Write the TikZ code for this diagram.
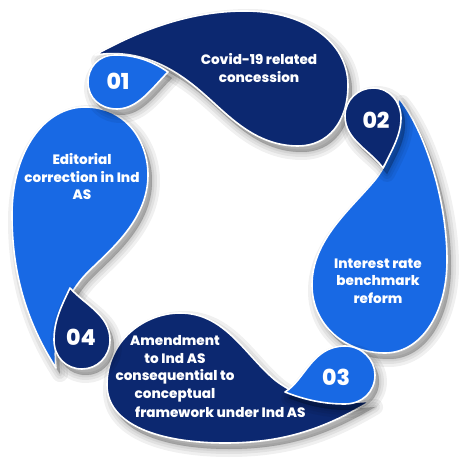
\documentclass[tikz,border=0pt]{standalone}
\usepackage{fontspec}
\setmainfont{Poppins}[UprightFont={* ExtraBold},BoldFont={* ExtraBold}]
\definecolor{navy}{RGB}{12,40,112}
\definecolor{bblue}{RGB}{24,105,228}
\newcommand\pthA{(95,55) .. controls (140,30) and (190,11) .. (245,11)
 .. controls (305,11) and (348,42) .. (348,85)
 .. controls (348,122) and (328,146) .. (298,146)
 .. controls (255,146) and (228,115) .. (205,95)
 .. controls (175,68) and (140,48) .. (95,55) -- cycle}
\newcommand\pthAb{(168,72) .. controls (148,58) and (130,55) .. (115,55)
 .. controls (98,55) and (88,68) .. (88,82)
 .. controls (88,98) and (100,109) .. (117,109)
 .. controls (138,109) and (152,88) .. (168,72) -- cycle}
\newcommand\pthB{(398,97) .. controls (425,130) and (447,200) .. (447,260)
 .. controls (447,315) and (420,353) .. (385,353)
 .. controls (345,353) and (312,325) .. (312,285)
 .. controls (312,240) and (350,210) .. (375,180)
 .. controls (395,155) and (400,120) .. (398,97) -- cycle}
\newcommand\pthBb{(383,168) .. controls (370,150) and (345,140) .. (345,116)
 .. controls (345,100) and (358,88) .. (373,88)
 .. controls (390,88) and (401,102) .. (401,118)
 .. controls (401,135) and (392,150) .. (383,168) -- cycle}
\newcommand\pthC{(371,401) .. controls (330,425) and (290,443) .. (225,443)
 .. controls (160,443) and (107,425) .. (107,385)
 .. controls (107,340) and (145,313) .. (180,313)
 .. controls (225,313) and (245,355) .. (275,380)
 .. controls (300,400) and (335,405) .. (371,401) -- cycle}
\newcommand\pthCb{(285,392) .. controls (305,380) and (312,346) .. (345,346)
 .. controls (362,346) and (375,360) .. (375,375)
 .. controls (375,392) and (362,404) .. (345,404)
 .. controls (320,404) and (300,398) .. (285,392) -- cycle}
\newcommand\pthD{(56,368) .. controls (25,320) and (12,270) .. (12,215)
 .. controls (12,150) and (45,107) .. (85,107)
 .. controls (125,107) and (148,140) .. (148,175)
 .. controls (148,220) and (110,250) .. (88,272)
 .. controls (65,295) and (52,330) .. (56,368) -- cycle}
\newcommand\pthDb{(70,288) .. controls (85,305) and (110,315) .. (110,340)
 .. controls (110,357) and (97,369) .. (82,369)
 .. controls (66,369) and (54,357) .. (54,340)
 .. controls (54,320) and (62,305) .. (70,288) -- cycle}
\newcommand\myshadow[1]{%
  \foreach \w in {16,10,5,1}{%
    \path[fill=black,draw=black,line width=\w pt,line join=round,opacity=0.06,shift={(4,6)}] #1;}}
\begin{document}
\begin{tikzpicture}[x=1pt,y=-1pt,
  shp/.style={draw=white,line width=1.6pt,line join=round},
  txt/.style={text=white,font=\fontsize{13.6}{17.5}\selectfont,align=center,inner sep=0pt},
  num/.style={text=white,font=\fontsize{22}{24}\selectfont,inner sep=0pt}]
\useasboundingbox (0,0) rectangle (474,473);
\fill[white] (0,0) rectangle (474,473);
% big shapes
\myshadow{\pthA}\myshadow{\pthB}\myshadow{\pthC}\myshadow{\pthD}
\path[shp,fill=navy] \pthA;
\path[shp,fill=bblue] \pthB;
\path[shp,fill=navy] \pthC;
\path[shp,fill=bblue] \pthD;
% number blobs
\myshadow{\pthAb}\myshadow{\pthBb}\myshadow{\pthCb}\myshadow{\pthDb}
\path[shp,fill=bblue] \pthAb;
\path[shp,fill=navy] \pthBb;
\path[shp,fill=bblue] \pthCb;
\path[shp,fill=navy] \pthDb;
% texts
\node[txt] (t1) at (259,68) {Covid-19 related\\concession};
\node[num] (n1) at (118,81) {01};
\node[num] (n2) at (376,120) {02};
\node[txt] (t2) at (378,281) {Interest rate\\benchmark\\reform};
\node[num] (n3) at (336,377) {03};
\node[txt] (t3) at (175,369) {Amendment\\to Ind AS\\consequential to\\conceptual};
\node[txt,anchor=west] (t3b) at (135,412) {framework under Ind AS};
\node[num] (n4) at (81,337) {04};
\node[txt] (t4) at (82,177) {Editorial\\correction in Ind\\AS};
\end{tikzpicture}
\end{document}
